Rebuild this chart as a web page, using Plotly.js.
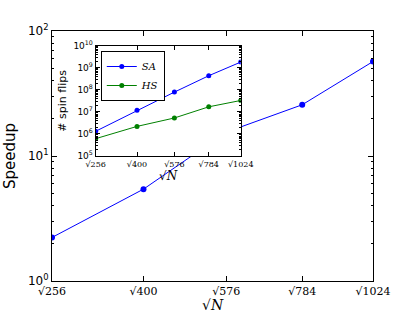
<!DOCTYPE html>
<html><head><meta charset="utf-8">
<script src="https://cdn.plot.ly/plotly-3.0.1.min.js"></script>
<style>body{margin:0;background:#fff}#c{width:415px;height:312px}</style>
</head><body><div id="c"></div>
<script>
const sizesN = [256, 400, 576, 784, 1024];
const tickLabels = ['√256', '√400', '√576', '√784', '√1024'];
const speedup = [2.23, 5.43, 15.5, 25.7, 57];
const flipsSA = [1.32e6, 1.18e7, 7.9e7, 4.37e8, 1.82e9];
const flipsHS = [6.1e5, 2.2e6, 5.3e6, 1.7e7, 3.3e7];

const xs = sizesN.map(n => Math.pow(n, 0.25));
const minorMain = [];
for (let d = 1; d <= 10; d *= 10) for (let k = 2; k <= 9; k++) minorMain.push(k * d);
const minorInset = [];
for (let d = 1e5; d <= 1e9; d *= 10) for (let k = 2; k <= 9; k++) minorInset.push(k * d);

const traces = [
  {x: xs, y: speedup, mode: 'lines+markers', line: {color: '#0000ff', width: 1},
   marker: {color: '#0000ff', size: 6}, showlegend: false, xaxis: 'x', yaxis: 'y'},
  {x: xs, y: flipsSA, mode: 'lines+markers', name: '<i>SA</i>', line: {color: '#0000ff', width: 1},
   marker: {color: '#0000ff', size: 5}, xaxis: 'x2', yaxis: 'y2'},
  {x: xs, y: flipsHS, mode: 'lines+markers', name: '<i>HS</i>', line: {color: '#008000', width: 1},
   marker: {color: '#008000', size: 5}, xaxis: 'x2', yaxis: 'y2'}
];

const axBase = {showline: true, linecolor: '#000', linewidth: 1, mirror: 'ticks', ticks: 'inside',
  tickcolor: '#000', showgrid: false, zeroline: false};

const layout = {
  width: 415, height: 312,
  margin: {l: 52, r: 42, t: 31, b: 31},
  paper_bgcolor: '#fff', plot_bgcolor: '#fff',
  showlegend: true,
  legend: {x: 0.152, y: 0.92, xanchor: 'left', yanchor: 'top', bgcolor: '#fff',
    bordercolor: '#000', borderwidth: 1, font: {family: 'DejaVu Serif', size: 10, color: '#000'},
    tracegroupgap: 0},
  annotations: [{text: '√<i>N</i>', xref: 'paper', yref: 'paper', x: 0.5, y: -0.094,
    xanchor: 'center', yanchor: 'middle', showarrow: false,
    font: {family: 'DejaVu Serif', size: 14, color: '#000'}}],
  xaxis: Object.assign({}, axBase, {domain: [0, 1], range: [xs[0], xs[4]], tickvals: xs, ticktext: tickLabels,
    ticklen: 5, tickfont: {family: 'DejaVu Serif', size: 11, color: '#000'}}),
  yaxis: Object.assign({}, axBase, {domain: [0, 1], type: 'log', range: [0, 2], tickvals: [1, 10, 100],
    ticktext: ['10<sup>0</sup>', '10<sup>1</sup>', '10<sup>2</sup>'], ticklen: 5,
    tickfont: {family: 'DejaVu Sans', size: 12, color: '#000'},
    minor: {tickvals: minorMain, ticks: 'inside', ticklen: 2, tickcolor: '#000'},
    title: {text: 'Speedup', font: {family: 'DejaVu Sans', size: 15, color: '#000'}, standoff: 8}}),
  xaxis2: Object.assign({}, axBase, {domain: [0.136, 0.588], anchor: 'y2', range: [xs[0], xs[4]],
    tickvals: xs, ticktext: tickLabels, ticklen: 4,
    tickfont: {family: 'DejaVu Serif', size: 8, color: '#000'},
    title: {text: '√<i>N</i>', font: {family: 'DejaVu Serif', size: 12, color: '#000'}, standoff: 3}}),
  yaxis2: Object.assign({}, axBase, {domain: [0.5, 0.941], anchor: 'x2', type: 'log', range: [5, 10],
    tickvals: [1e5, 1e6, 1e7, 1e8, 1e9, 1e10],
    ticktext: ['10<sup>5</sup>', '10<sup>6</sup>', '10<sup>7</sup>', '10<sup>8</sup>', '10<sup>9</sup>', '10<sup>10</sup>'],
    ticklen: 4, tickfont: {family: 'DejaVu Sans', size: 9, color: '#000'},
    minor: {tickvals: minorInset, ticks: 'inside', ticklen: 2, tickcolor: '#000'},
    title: {text: '# spin flips', font: {family: 'DejaVu Sans', size: 11, color: '#000'}, standoff: 4}})
};

Plotly.newPlot('c', traces, layout, {displayModeBar: false, staticPlot: true});
</script></body></html>
